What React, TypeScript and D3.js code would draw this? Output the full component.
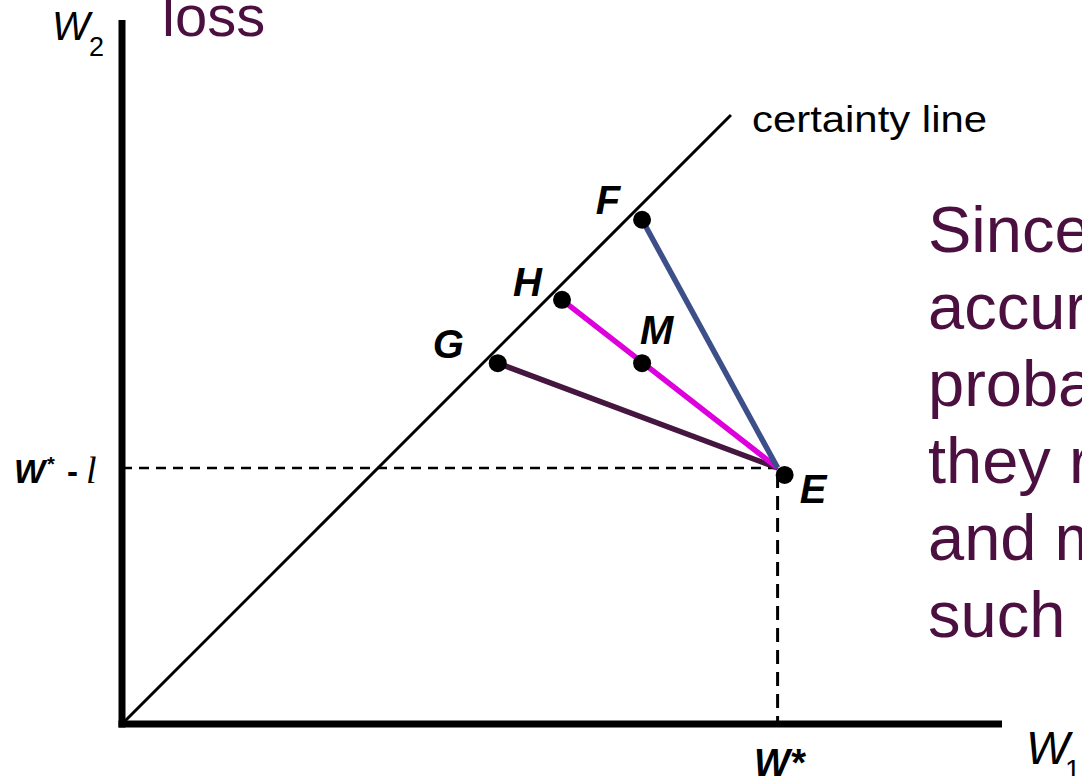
import React from "react";
import * as d3 from "d3";

// ---- data (wealth units) ----
const axisW1Max = 100;
const axisW2Max = 80;
const certaintyEnd = 69.2; // certainty line runs from (0,0) to (69.2, 69.2)
const wStar = 74.5; // endowment wealth in good state
const wStarMinusL = 29.1; // endowment wealth in loss state

const pointNames = ["F", "H", "G", "M", "E"];
const pointW1 = [59.1, 50.0, 42.7, 59.1, 75.3];
const pointW2 = [57.3, 48.2, 41.0, 41.0, 28.3];

const contractFrom = ["G", "H", "F"];
const contractColors = ["#45163F", "#DD00DD", "#3D4F88"];

const sideText = ["Since", "accur", "proba", "they r", "and m", "such a"];

const W = 1082;
const H = 776;
const FONT = "'Liberation Sans', Arial, Helvetica, sans-serif";
const PURPLE = "#4B1040";

const labelOffsets: Record<string, { dx: number; dy: number; anchor: string }> = {
  F: { dx: -22, dy: -6, anchor: "end" },
  H: { dx: -20, dy: -4, anchor: "end" },
  G: { dx: -34, dy: -5, anchor: "end" },
  M: { dx: -2, dy: -19, anchor: "start" },
  E: { dx: 15, dy: 28, anchor: "start" },
};

export default function App() {
  const x = d3.scaleLinear().domain([0, 100]).range([122, 1002]);
  const y = d3.scaleLinear().domain([0, 100]).range([724, -156]);

  const pts = pointNames.map((n, i) => ({ name: n, w1: pointW1[i], w2: pointW2[i] }));
  const byName = (n: string) => pts.find((p) => p.name === n)!;

  const line = d3.line<[number, number]>().x((d) => x(d[0])).y((d) => y(d[1]));

  return (
    <div style={{ position: "absolute", left: 0, top: 0, width: W, height: H, overflow: "hidden", background: "#fff" }}>
      <svg width={W} height={H} style={{ display: "block" }} fontFamily={FONT}>
        <rect x={0} y={0} width={W} height={H} fill="#fff" />
        {/* dashed guides */}
        <path
          d={line([[0, wStarMinusL], [wStar, wStarMinusL]])!}
          stroke="#000"
          strokeWidth={2.5}
          strokeDasharray="10,7"
          fill="none"
        />
        <path
          d={line([[wStar, wStarMinusL], [wStar, 0]])!}
          stroke="#000"
          strokeWidth={3}
          strokeDasharray="14,8"
          strokeDashoffset={-6}
          fill="none"
        />
        {/* certainty line */}
        <path d={line([[0, 0], [certaintyEnd, certaintyEnd]])!} stroke="#000" strokeWidth={3} fill="none" />
        <text x={752} y={132} fontSize={36} fill="#000" textLength={235} lengthAdjust="spacingAndGlyphs">
          certainty line
        </text>
        {/* contract lines */}
        {contractFrom.map((n, i) => {
          const p = byName(n);
          return (
            <path
              key={n}
              d={line([[p.w1, p.w2], [wStar, wStarMinusL]])!}
              stroke={contractColors[i]}
              strokeWidth={5.5}
              fill="none"
            />
          );
        })}
        {/* points */}
        {pts.map((p) => (
          <circle key={p.name} cx={x(p.w1)} cy={y(p.w2)} r={9} fill="#000" />
        ))}
        {pts.map((p) => {
          const o = labelOffsets[p.name];
          return (
            <text
              key={"l" + p.name}
              x={x(p.w1) + o.dx}
              y={y(p.w2) + o.dy}
              textAnchor={o.anchor}
              fontSize={40}
              fontWeight="bold"
              fontStyle="italic"
              fill="#000"
            >
              {p.name}
            </text>
          );
        })}
        {/* axes */}
        <line x1={x(0)} y1={y(0) + 3.5} x2={x(0)} y2={y(axisW2Max)} stroke="#000" strokeWidth={7} />
        <line x1={x(0) - 3.5} y1={y(0)} x2={x(axisW1Max)} y2={y(0)} stroke="#000" strokeWidth={7} />
        {/* axis labels */}
        <text x={52} y={40} fontSize={40} fontStyle="italic" fill="#000">W</text>
        <text x={89} y={56} fontSize={27} fill="#000">2</text>
        <text x={1026} y={764} fontSize={46} fontStyle="italic" fill="#000">W</text>
        <text x={1065} y={779} fontSize={28} fill="#000">1</text>
        <text x={162} y={36} fontSize={58} fill={PURPLE}>loss</text>
        {/* W* label */}
        <text x={754} y={776} fontSize={38} fontWeight="bold" fontStyle="italic" fill="#000">W*</text>
        {/* W* - l label */}
        <text x={14} y={483} fontSize={33} fontWeight="bold" fontStyle="italic" fill="#000">W</text>
        <text x={47} y={471} fontSize={20} fontWeight="bold" fill="#000">*</text>
        <text x={67} y={483} fontSize={33} fontWeight="bold" fill="#000">-</text>
        <text x={86} y={483} fontSize={38} fontStyle="italic" fontFamily="'Liberation Serif', 'Times New Roman', serif" fill="#000">l</text>
        {/* side text */}
        {sideText.map((t, i) => (
          <text key={t} x={928} y={252 + i * 77} fontSize={65} fill={PURPLE}>
            {t}
          </text>
        ))}
      </svg>
    </div>
  );
}
